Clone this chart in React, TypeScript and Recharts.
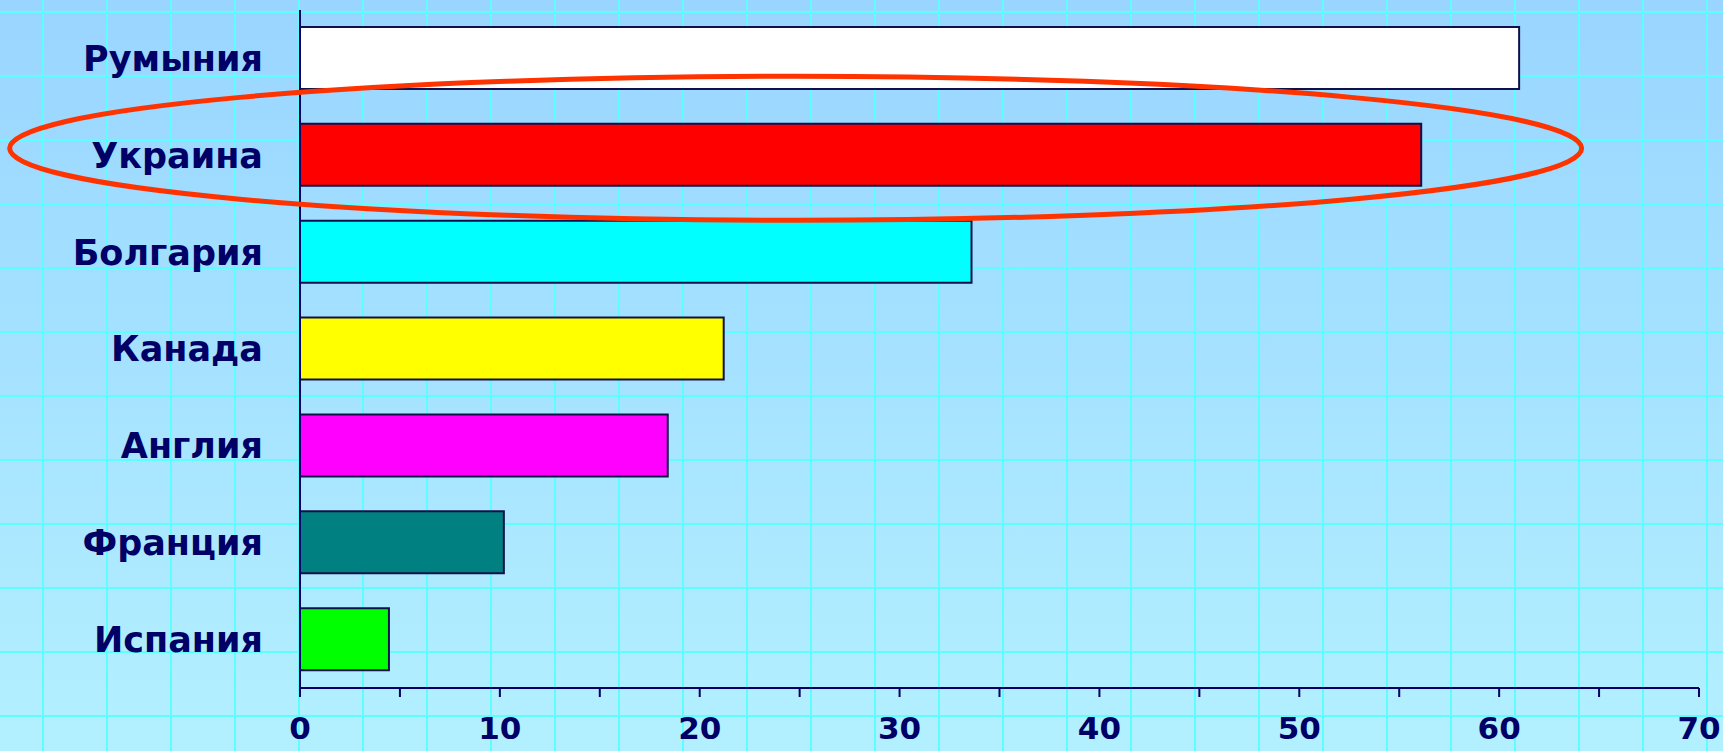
import React from 'react';
import { BarChart, Bar, XAxis, YAxis, Cell, ReferenceDot } from 'recharts';

const categories = ['Румыния', 'Украина', 'Болгария', 'Канада', 'Англия', 'Франция', 'Испания'];
const values = [61, 56.1, 33.6, 21.2, 18.4, 10.2, 4.45];
const barColors = ['#ffffff', '#ff0000', '#00ffff', '#ffff00', '#ff00ff', '#008080', '#00ff00'];
const xTicks = [0, 5, 10, 15, 20, 25, 30, 35, 40, 45, 50, 55, 60, 65, 70];
const highlighted = 'Украина';
const highlightCenterValue = 24.8;

const data = categories.map((name, i) => ({ name, value: values[i] }));

const FONT = '"DejaVu Sans", Verdana, sans-serif';
const NAVY = '#000066';

const EllipseShape = (props: any) => {
  const { cx, cy } = props;
  if (cx == null || cy == null) return null;
  return (
    <ellipse cx={cx} cy={cy - 7} rx={786} ry={72} fill="none" stroke="#ff3300" strokeWidth={5} />
  );
};

export default function App() {
  return (
    <div
      style={{
        position: 'absolute',
        left: 0,
        top: 0,
        width: 1723,
        height: 751,
        overflow: 'hidden',
        backgroundImage:
          'linear-gradient(to right, #5cffff 2px, transparent 2px), linear-gradient(to bottom, #5cffff 2px, transparent 2px), linear-gradient(to bottom, #99d5ff, #b3f0ff)',
        backgroundSize: '64px 64px, 64px 64px, 100% 100%',
        backgroundPosition: '42px 0px, 0px 11px, 0px 0px',
      }}
    >
      <BarChart
        width={1723}
        height={751}
        data={data}
        layout="vertical"
        margin={{ top: 10, right: 24, left: 0, bottom: 0 }}
      >
        <XAxis
          type="number"
          domain={[0, 70]}
          ticks={xTicks}
          interval={0}
          height={63}
          tickFormatter={(v: number) => (v % 10 === 0 ? String(v) : '')}
          axisLine={{ stroke: NAVY, strokeWidth: 2 }}
          tickLine={{ stroke: NAVY, strokeWidth: 2 }}
          tickSize={9}
          tickMargin={20}
          tick={{ fill: NAVY, fontSize: 31, fontWeight: 'bold', fontFamily: FONT }}
        />
        <YAxis
          type="category"
          dataKey="name"
          width={300}
          axisLine={{ stroke: NAVY, strokeWidth: 2 }}
          tickLine={false}
          tickSize={0}
          tickMargin={37}
          interval={0}
          tick={{ fill: NAVY, fontSize: 35, fontWeight: 'bold', fontFamily: FONT }}
        />
        <Bar dataKey="value" barSize={62} stroke="#10104a" strokeWidth={2} isAnimationActive={false}>
          {data.map((d, i) => (
            <Cell key={d.name} fill={barColors[i]} />
          ))}
        </Bar>
        <ReferenceDot
          x={highlightCenterValue}
          y={highlighted}
          ifOverflow="visible"
          shape={EllipseShape}
        />
      </BarChart>
    </div>
  );
}
